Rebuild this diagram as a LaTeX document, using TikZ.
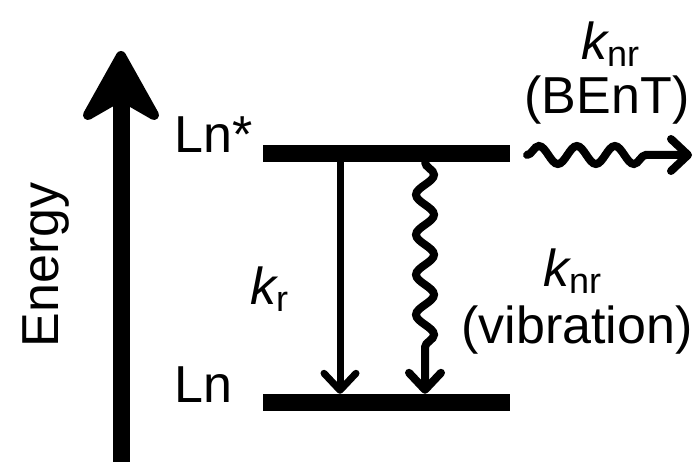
\documentclass[tikz,border=0pt]{standalone}
\usepackage{fontspec}
\setmainfont{Liberation Sans}
\usetikzlibrary{arrows.meta,decorations.pathmorphing}
\newcommand\mysub[1]{\raisebox{-7pt}{\fontsize{36}{36}\selectfont #1}}
\tikzset{
  lbl/.style={inner sep=0pt, font=\fontsize{52}{60}\selectfont},
  levelbar/.style={fill=black, inner sep=0pt, minimum width=247pt, minimum height=17pt},
  barb/.style={-{Straight Barb[length=17pt, width=32pt, round]}},
  wavy/.style={barb, line width=8pt, line cap=round, decorate,
    decoration={snake, amplitude=9pt, segment length=40pt, post length=32pt}},
}
\begin{document}
\begin{tikzpicture}[x=1pt, y=-1pt]
\useasboundingbox (0,0) rectangle (696,462);
% energy axis
\coordinate (ebot) at (121,462);
\coordinate (etop) at (121,100);
\draw[line width=17pt] (ebot) -- (etop);
\coordinate (h1) at (121,56);
\coordinate (h2) at (88,115);
\coordinate (h3) at (121,96);
\coordinate (h4) at (154,115);
\filldraw[line width=10pt, line join=round] (h1) -- (h2) -- (h3) -- (h4) -- cycle;
\node[lbl, rotate=90] (energy) at (46,265) {Energy};
% levels
\node[levelbar] (up) at (386.5,153.5) {};
\node[levelbar] (lo) at (386.5,402.5) {};
\node[lbl, anchor=base west] (lnstar) at (174,153) {Ln*};
\node[lbl, anchor=base west] (ln) at (174,402) {Ln};
% radiative
\draw[barb, line width=7pt] ([xshift=-46.5pt]up.south) -- ([xshift=-46.5pt]lo.north);
\node[lbl, anchor=base west] (kr) at (250,305) {\itshape k\upshape\mysub{r}};
% vibrational
\draw[wavy] ([xshift=38.5pt]up.south) -- ([xshift=38.5pt]lo.north);
\node[lbl, anchor=base] (knrv) at (572,287) {\itshape k\upshape\mysub{nr}};
\node[lbl, anchor=base] (vib) at (577,343) {(vibration)};
% BEnT
\coordinate (bs) at (527,155);
\coordinate (be) at (692,155);
\draw[wavy, decoration={post length=40pt, segment length=38pt}] (bs) -- (be);
\node[lbl, anchor=base] (knrb) at (610,60) {\itshape k\upshape\mysub{nr}};
\node[lbl, anchor=base] (bent) at (607,114) {(BEnT)};
\end{tikzpicture}
\end{document}
